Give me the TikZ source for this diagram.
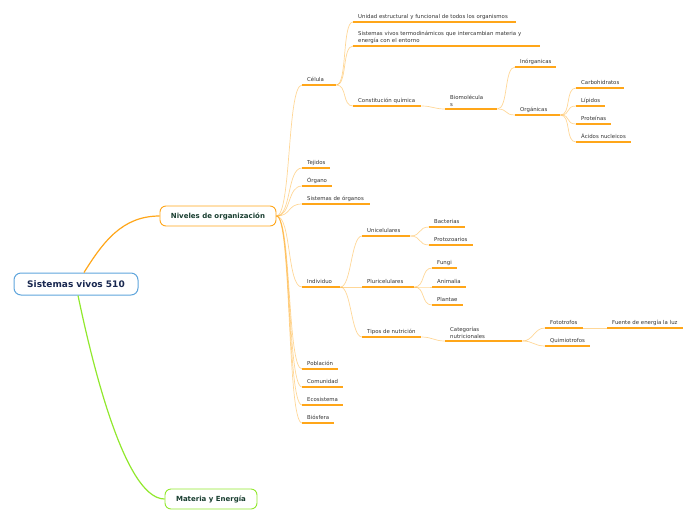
\documentclass[tikz,border=0pt]{standalone}
\usepackage{fontspec}
\setmainfont{DejaVu Sans}
\usetikzlibrary{positioning}
\definecolor{mmorange}{RGB}{255,166,25}
\definecolor{mmblue}{RGB}{95,165,220}
\definecolor{mmgreen}{RGB}{145,232,45}
\definecolor{mmnavy}{RGB}{25,40,80}
\definecolor{mmdark}{RGB}{25,62,48}
\tikzset{
  central/.style={draw=mmblue, line width=1pt, rounded corners=7pt, fill=white,
    font=\fontsize{9}{10}\selectfont\bfseries, text=mmnavy, minimum width=124, minimum height=22},
  mainbox/.style={draw=#1, line width=0.9pt, rounded corners=6pt, fill=white,
    font=\fontsize{7}{8}\selectfont\bfseries, text=mmdark, minimum height=20},
  topic/.style={anchor=south west, inner xsep=5pt, inner ysep=2.5pt, text depth=1pt,
    text width=#1, align=left, font=\fontsize{5.4}{6.6}\selectfont, text=black!80},
  twoline/.style={text depth=},
  uline/.style={mmorange, line width=1.3pt},
  link/.style={mmorange, draw opacity=0.45, line width=0.7pt, out=0, in=180, distance=#1},
  link/.default=11pt,
}

\begin{document}
\begin{tikzpicture}[x=1pt, y=-1pt]
\useasboundingbox (0,0) rectangle (696,520);

% main topics
\node[central] (root) at (76,284) {Sistemas vivos 510};
\node[mainbox=mmorange, minimum width=116] (niv) at (218,216) {Niveles de organización};
\node[mainbox=mmgreen, minimum width=92] (mat) at (211,499) {Materia y Energía};

\draw[mmorange, line width=1.2pt] ([xshift=8pt]root.north) to[out=58, in=180] (niv.west);
\draw[mmgreen, line width=1.2pt] ([xshift=2pt]root.south) to[out=-78, in=180, looseness=0.5] (mat.west);

% niveles
\foreach \n/\y/\w/\t in {cel/85/24/Célula, tej/168/18/Tejidos, org/186/20/Órgano,
                         sis/204/58/Sistemas de órganos, ind/287/28/Individuo,
                         pob/369/26/Población, com/387/31/Comunidad,
                         eco/405/31/Ecosistema, bio/423/22/Biósfera}
  \node[topic=\w] (\n) at (302,\y) {\mbox{\t}};

% celula
\node[topic=153] (uni) at (353,22) {\mbox{Unidad estructural y funcional de todos los organismos}};
\node[topic=177, twoline] (sv) at (353,46) {Sistemas vivos termodinámicos que intercambian materia y\\energía con el entorno};
\node[topic=58] (cq) at (353,106) {\mbox{Constitución química}};
\node[topic=42, twoline] (bm) at (445,109) {Biomolécula\\s};
\node[topic=31] (ino) at (515,67) {\mbox{Inórganicas}};
\node[topic=35] (orgn) at (515,115) {\mbox{Orgánicas}};
\foreach \n/\y/\w/\t in {carb/88/38/Carbohidratos, lip/106/19/Lípidos,
                         prot/124/25/Proteínas, acid/142/45/Ácidos nucleicos}
  \node[topic=\w] (\n) at (576,\y) {\mbox{\t}};

% individuo
\node[topic=38] (unic) at (362,236) {\mbox{Unicelulares}};
\node[topic=42] (pluri) at (362,287) {\mbox{Pluricelulares}};
\node[topic=49] (tipo) at (362,337) {\mbox{Tipos de nutrición}};
\node[topic=26] (bact) at (429,227) {\mbox{Bacterias}};
\node[topic=34] (proto) at (429,245) {\mbox{Protozoarios}};
\foreach \n/\y/\w/\t in {fun/268/15/Fungi, ani/287/24/Animalia, pla/305/21/Plantae}
  \node[topic=\w] (\n) at (432,\y) {\mbox{\t}};
\node[topic=67, twoline] (cat) at (445,341) {Categorías\\nutricionales};
\node[topic=28] (foto) at (545,328) {\mbox{Fototrofos}};
\node[topic=35] (quim) at (545,346) {\mbox{Quimiotrofos}};
\node[topic=66] (luz) at (607,328) {\mbox{Fuente de energía la luz}};

% connectors
\foreach \b in {cel,tej,org,sis,ind,pob,com,eco,bio}
  \draw[link=15pt] (niv.east) to (\b.south west);
\foreach \a/\b in {cel/uni, cel/sv, cel/cq, cq/bm, bm/ino, bm/orgn,
                   orgn/carb, orgn/lip, orgn/prot, orgn/acid,
                   ind/unic, ind/pluri, ind/tipo, unic/bact, unic/proto,
                   pluri/fun, pluri/ani, pluri/pla, tipo/cat,
                   cat/foto, cat/quim, foto/luz}
  \draw[link] (\a.south east) to (\b.south west);

% underlines
\foreach \n in {cel,tej,org,sis,ind,pob,com,eco,bio,uni,sv,cq,bm,ino,orgn,
                carb,lip,prot,acid,unic,pluri,tipo,bact,proto,fun,ani,pla,
                cat,foto,quim,luz}
  \draw[uline] (\n.south west) -- (\n.south east);

\end{tikzpicture}
\end{document}
